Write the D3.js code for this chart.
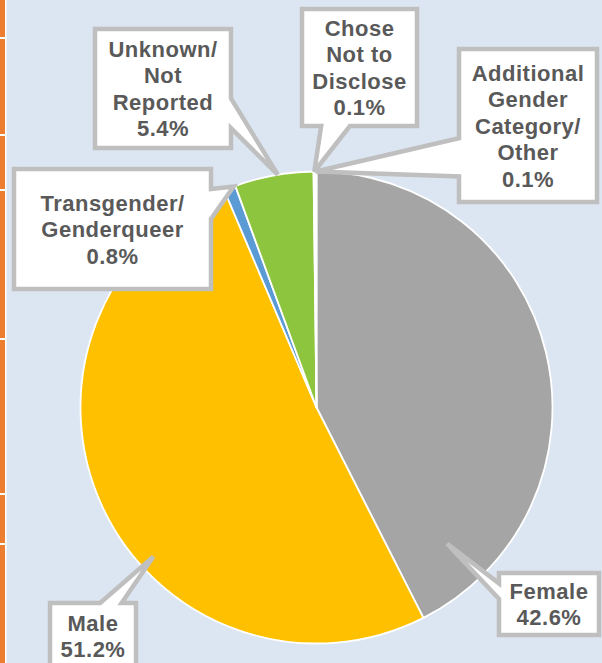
<!DOCTYPE html>
<html>
<head>
<meta charset="utf-8">
<script src="https://cdn.jsdelivr.net/npm/d3@7"></script>
<style>
  html, body { margin: 0; padding: 0; background: #dce6f2; }
  svg { display: block; }
</style>
</head>
<body>
<script>
// gender breakdown (percent of total)
const categories = ['Female', 'Male', 'Transgender/Genderqueer', 'Unknown/Not Reported', 'Chose Not to Disclose', 'Additional Gender Category/Other'];
const values = [42.6, 51.2, 0.8, 5.4, 0.1, 0.1];
const nameLines = [
    ['Female'],
    ['Male'],
    ['Transgender/', 'Genderqueer'],
    ['Unknown/', 'Not', 'Reported'],
    ['Chose', 'Not to', 'Disclose'],
    ['Additional', 'Gender', 'Category/', 'Other']
];

const colors = ['#a5a5a5', '#ffc000', '#5b9bd5', '#8dc53e', '#4472c4', '#ed7d31'];

// callout boxes [x, y, w, h] and where the pointer lands [fraction of slice angle, fraction of radius]
const callouts = [
    { box: [499, 573, 100, 62], tip: [0.89, 0.80] },
    { box: [50, 603, 86, 66], tip: [0.405, 0.937] },
    { box: [14, 169, 197, 120], tip: [0.85, 1.0] },
    { box: [95, 29, 136, 119], tip: [0.55, 1.0] },
    { box: [302, 9, 115, 117], tip: [0.5, 1.0] },
    { box: [459, 49, 138, 153], tip: [0.5, 1.0] }
];

let width = 602, height = 663;
let cx = 316.5, cy = 407.5, radius = 236;

let svg = d3.select('body').append('svg')
    .attr('width', width).attr('height', height);

svg.append('rect').attr('width', width).attr('height', height).attr('fill', '#dce6f2');

// bit of the table border showing on the left
svg.append('rect').attr('x', 0).attr('y', 0).attr('width', 5).attr('height', height).attr('fill', '#ed7d31');
svg.append('rect').attr('x', 5).attr('y', 0).attr('width', 1.5).attr('height', height).attr('fill', '#fff');
[38, 135, 190, 339, 494, 544].forEach(y => {
    svg.append('rect').attr('x', 0).attr('y', y - 1).attr('width', 5).attr('height', 2).attr('fill', '#fff');
});

let pie = d3.pie().sort(null).value(d => d);
let arcs = pie(values);
let arc = d3.arc().innerRadius(0).outerRadius(radius);

let g = svg.append('g').attr('transform', `translate(${cx}, ${cy})`);

g.selectAll('path.slice')
    .data(arcs)
    .enter().append('path')
    .attr('class', 'slice')
    .attr('d', arc)
    .attr('fill', (d, i) => colors[i])
    .attr('stroke', '#fff')
    .attr('stroke-width', 1.8)
    .attr('stroke-linejoin', 'round');

// Office style wedge-rect callout
function calloutPath(x, y, w, h, tx, ty) {
    const l = x, t = y, r = x + w, b = y + h;
    const hc = x + w / 2, vc = y + h / 2;
    const dxPos = tx - hc, dyPos = ty - vc;
    const dz = Math.abs(dyPos) - Math.abs(dxPos * h / w);
    const x1 = l + w * (dxPos > 0 ? 7 : 2) / 12, x2 = l + w * (dxPos > 0 ? 10 : 5) / 12;
    const y1 = t + h * (dyPos > 0 ? 7 : 2) / 12, y2 = t + h * (dyPos > 0 ? 10 : 5) / 12;
    let pts = [[l, t]];
    if (dz > 0 && dyPos < 0) pts.push([x1, t], [tx, ty], [x2, t]);
    pts.push([r, t]);
    if (dz <= 0 && dxPos > 0) pts.push([r, y1], [tx, ty], [r, y2]);
    pts.push([r, b]);
    if (dz > 0 && dyPos > 0) pts.push([x2, b], [tx, ty], [x1, b]);
    pts.push([l, b]);
    if (dz <= 0 && dxPos < 0) pts.push([l, y2], [tx, ty], [l, y1]);
    return d3.line()(pts) + 'Z';
}

let fmt = d3.format('.1f');
let lineGap = 26.5;

arcs.forEach((a, i) => {
    let c = callouts[i];
    let ang = a.startAngle + c.tip[0] * (a.endAngle - a.startAngle);
    let tx = cx + radius * c.tip[1] * Math.sin(ang);
    let ty = cy - radius * c.tip[1] * Math.cos(ang);
    let [bx, by, bw, bh] = c.box;

    svg.append('path')
        .attr('d', calloutPath(bx, by, bw, bh, tx, ty))
        .attr('fill', '#fff')
        .attr('stroke', '#bfbfbf')
        .attr('stroke-width', 4.5)
        .attr('stroke-linejoin', 'miter')
        .attr('stroke-miterlimit', 3);

    let lines = nameLines[i].concat([fmt(values[i]) + '%']);
    let first = by + bh / 2 - (lines.length - 1) * lineGap / 2 + 8;
    let text = svg.append('text')
        .attr('text-anchor', 'middle')
        .attr('font-family', 'Liberation Sans, Arial, sans-serif')
        .attr('font-weight', 'bold')
        .attr('font-size', 22)
        .attr('letter-spacing', 0.5)
        .attr('fill', '#595959');
    lines.forEach((s, k) => {
        text.append('tspan')
            .attr('x', bx + bw / 2)
            .attr('y', first + k * lineGap)
            .text(s);
    });
});
</script>
</body>
</html>
